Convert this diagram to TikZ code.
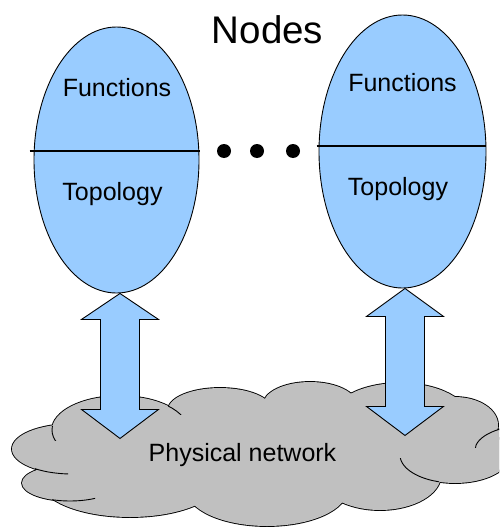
\documentclass[tikz,border=0pt]{standalone}
\usepackage{fontspec}
\setmainfont{Liberation Sans}
\usetikzlibrary{calc,shapes.geometric}
\definecolor{nodeblue}{HTML}{99CCFF}
\definecolor{cloudgray}{HTML}{C0C0C0}
\begin{document}
\begin{tikzpicture}[x=1pt,y=-1pt,
  lbl/.style={inner sep=0pt, anchor=base, font=\fontsize{25}{30}\selectfont},
  nodeell/.style={ellipse, draw=black, line width=0.9pt, fill=nodeblue, inner sep=0pt},
  divider/.style={line width=2.6pt, black},
  dotnode/.style={circle, fill=black, inner sep=0pt, minimum size=14pt},
  blockarr/.style={draw=black, line width=0.9pt, fill=nodeblue, line join=miter},
  crease/.style={draw=black, line width=0.9pt}]
\useasboundingbox (0,0) rectangle (499,527);
\clip (0,0) rectangle (499,527);

% ---- cloud (union of lobes) ----
\def\lobes{72/449/60/25, 70/483/48/18, 130/480/90/37, 267/490/80/36,
  380/475/61/35, 455/455/55/28, 530/450/55/25, 455/425/43/28,
  400/420/70/37, 310/405/47/23, 220/410/52/22, 120/430/68/34, 260/455/200/52}
\foreach \cx/\cy/\rx/\ry in \lobes
  \draw[black, line width=1.8pt] (\cx,\cy) ellipse [x radius=\rx pt, y radius=\ry pt];
\foreach \cx/\cy/\rx/\ry in \lobes
  \fill[cloudgray] (\cx,\cy) ellipse [x radius=\rx pt, y radius=\ry pt];
% creases
\begin{scope}\clip (50,426) rectangle (64,440);
  \draw[crease] (120,430) ellipse [x radius=68pt, y radius=34pt];\end{scope}
\begin{scope}\clip (35,462) rectangle (68,478);
  \draw[crease] (72,449) ellipse [x radius=60pt, y radius=25pt];\end{scope}
\begin{scope}\clip (52,490) rectangle (95,506);
  \draw[crease] (70,483) ellipse [x radius=48pt, y radius=18pt];\end{scope}
\begin{scope}\clip (168,404) rectangle (190,414);
  \draw[crease] (120,430) ellipse [x radius=68pt, y radius=34pt];\end{scope}
\begin{scope}\clip (398,458) rectangle (439,486);
  \draw[crease] (455,455) ellipse [x radius=55pt, y radius=28pt];\end{scope}
\begin{scope}\clip (474,428) rectangle (499,447);
  \draw[crease] (530,450) ellipse [x radius=55pt, y radius=25pt];\end{scope}

% ---- node ellipses ----
\node[nodeell, minimum width=165pt, minimum height=266pt] (L) at (116.5,160) {};
\node[nodeell, minimum width=167pt, minimum height=273pt] (R) at (402.5,151.5) {};
\draw[divider] ($(L.west)+(-4,-9)$) -- ($(L.east)+(1,-9)$);
\draw[divider] ($(R.west)+(-2,-5.5)$) -- ($(R.east)+(0,-5.5)$);

\node[lbl] (lf) at (117,96) {Functions};
\node[lbl] (lt) at (112.5,200) {Topology};
\node[lbl] (rf) at (402.5,91) {Functions};
\node[lbl] (rt) at (398,195) {Topology};

\node[inner sep=0pt, anchor=base, font=\fontsize{38.5}{46}\selectfont] (title) at (267.5,44) {Nodes};

\node[dotnode] (d1) at (224,151) {};
\node[dotnode] (d2) at (257,151) {};
\node[dotnode] (d3) at (293,151) {};

% ---- block arrows ----
\draw[blockarr] ([xshift=3.5pt]L.south) -- ++(38.5,26) -- ++(-19,0) -- ++(0,90) -- ++(19,0)
  -- ++(-38.5,29) coordinate (lb) -- ++(-38.5,-29) -- ++(19,0) -- ++(0,-90) -- ++(-19,0) -- cycle;
\draw[blockarr] ([xshift=2.5pt]R.south) -- ++(38.5,28) -- ++(-19,0) -- ++(0,90) -- ++(19,0)
  -- ++(-38.5,29) coordinate (rb) -- ++(-38.5,-29) -- ++(19,0) -- ++(0,-90) -- ++(-19,0) -- cycle;

\node[lbl] (phys) at (242.5,461) {Physical network};
\end{tikzpicture}
\end{document}
